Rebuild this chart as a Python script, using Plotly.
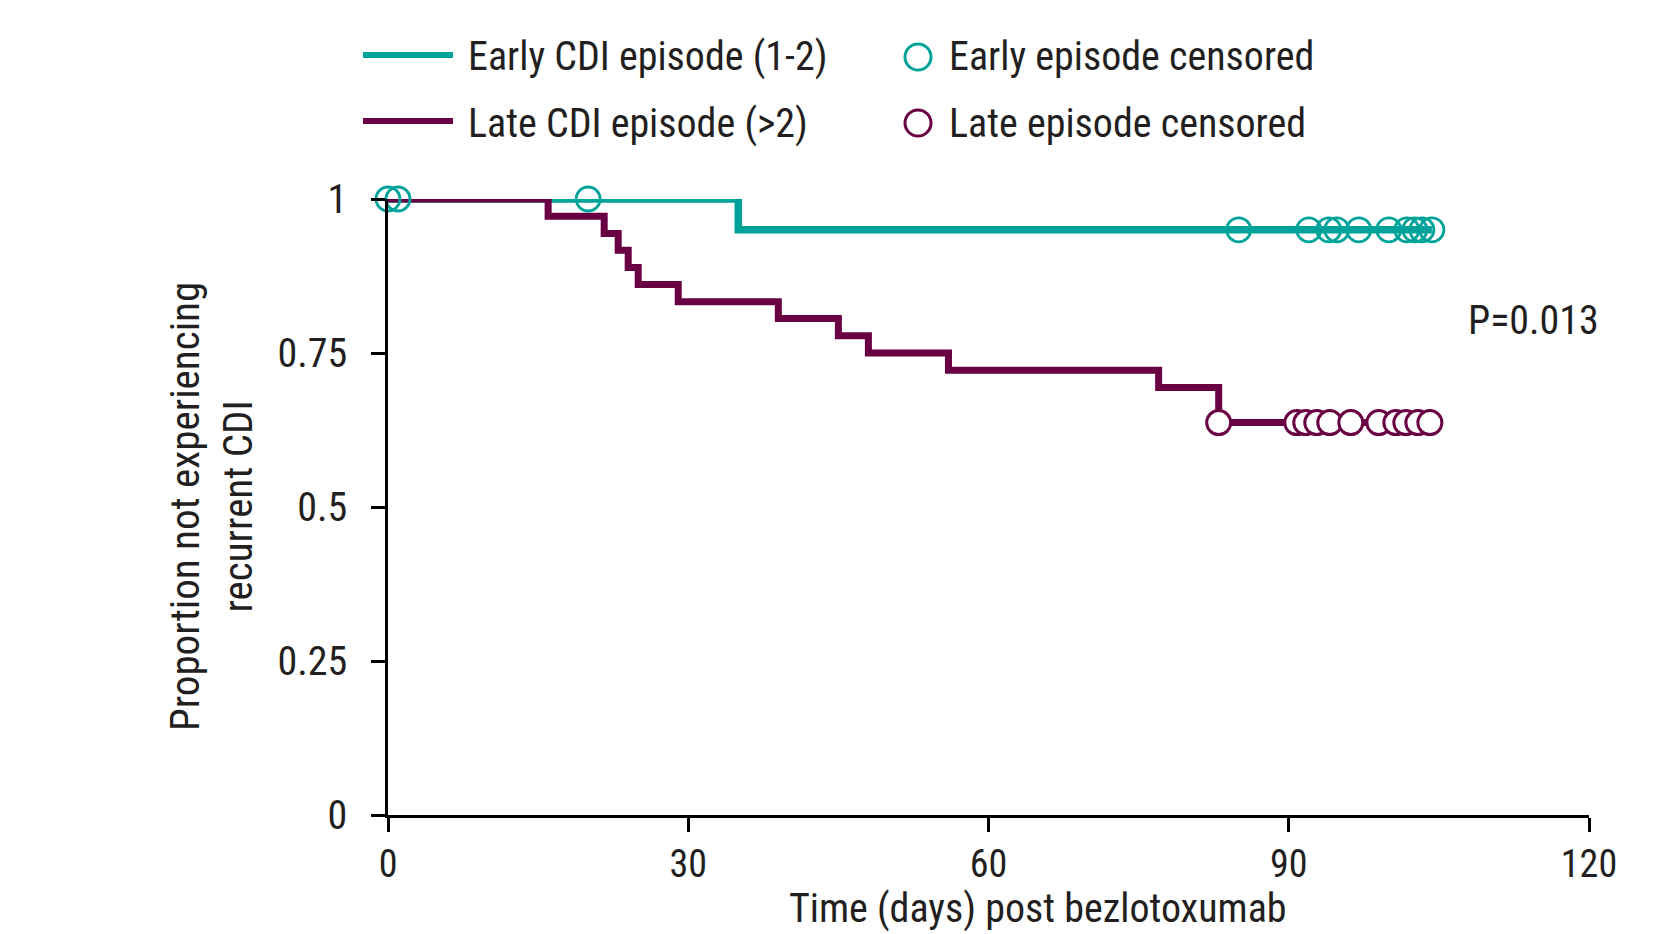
import numpy as np
import plotly.graph_objects as go

# ---------------- data ----------------
x_ticks = [0, 30, 60, 90, 120]
y_ticks = [0, 0.25, 0.5, 0.75, 1]
y_ticklabels = ["0", "0.25", "0.5", "0.75", "1"]

# Kaplan-Meier event times / survival after event
early_event_days = [35]
early_event_surv = [0.95]
early_censor_days = [0, 1, 20, 85, 92, 94, 94.8, 97, 100, 101.8, 102.6, 103.3, 104.3]

late_event_days = [16, 21.6, 23, 24, 25, 29, 39, 45, 48, 56, 77, 83]
late_event_surv = [0.972, 0.944, 0.917, 0.889, 0.861, 0.833, 0.806, 0.778, 0.750, 0.722, 0.694, 0.637]
late_censor_days = [83, 90.8, 91.7, 92.8, 94.1, 96.2, 99.0, 100.7, 101.7, 102.9, 104.1]

p_value_text = "P=0.013"

TEAL = "#00A39A"
PURPLE = "#6A0044"
FONT = "Liberation Sans Narrow, Arial Narrow, Roboto Condensed, DejaVu Sans Condensed, sans-serif"
TXT = "#231F20"


def km_curve(ev_days, ev_surv, end_day):
    xs = [0] + list(ev_days) + [end_day]
    ys = [1.0] + list(ev_surv) + [ev_surv[-1]]
    return xs, ys


def surv_at(ev_days, ev_surv, days):
    ev_days = np.asarray(ev_days)
    vals = np.concatenate([[1.0], ev_surv])
    idx = np.searchsorted(ev_days, np.asarray(days), side="right")
    return vals[idx]


ex, ey = km_curve(early_event_days, early_event_surv, max(early_censor_days))
lx, ly = km_curve(late_event_days, late_event_surv, max(late_censor_days))

fig = go.Figure()
fig.add_trace(go.Scatter(x=ex, y=ey, mode="lines", line=dict(color=TEAL, width=7.5, shape="hv"),
                         name="Early CDI episode (1-2)", showlegend=False))
fig.add_trace(go.Scatter(x=lx, y=ly, mode="lines", line=dict(color=PURPLE, width=7, shape="hv"),
                         name="Late CDI episode (>2)", showlegend=False))
fig.add_trace(go.Scatter(x=early_censor_days,
                         y=surv_at(early_event_days, early_event_surv, early_censor_days),
                         mode="markers", cliponaxis=False,
                         marker=dict(symbol="circle-open", size=24, color=TEAL, line=dict(width=2.8, color=TEAL)),
                         name="Early episode censored", showlegend=False))
fig.add_trace(go.Scatter(x=late_censor_days,
                         y=surv_at(late_event_days, late_event_surv, late_censor_days),
                         mode="markers", cliponaxis=False,
                         marker=dict(symbol="circle", size=24, color="white", line=dict(width=3, color=PURPLE)),
                         name="Late episode censored", showlegend=False))

# ------------- layout -------------
# target plot-area edges in the screenshot (page has an 8px body margin)
L, R, T, B = 388, 1589, 199, 815
W, H = 1660, 934
OFF = 8


def px_x(x):
    return (x - L) / (R - L)


def px_y(y):
    return (B - y) / (B - T)


shapes = []
annotations = []
# custom legend
legend_rows = [
    ("Early CDI episode (1-2)", "Early episode censored", TEAL, "rgba(0,0,0,0)", 55),
    ("Late CDI episode (>2)", "Late episode censored", PURPLE, "white", 121),
]
for line_name, cens_name, col, fill, yy in legend_rows:
    shapes.append(dict(type="line", xref="paper", yref="paper",
                       x0=px_x(363), x1=px_x(453), y0=px_y(yy), y1=px_y(yy),
                       line=dict(color=col, width=6)))
    shapes.append(dict(type="circle", xref="paper", yref="paper",
                       x0=px_x(918 - 13), x1=px_x(918 + 13), y0=px_y(yy + 2 + 13), y1=px_y(yy + 2 - 13),
                       line=dict(color=col, width=3), fillcolor=fill))
    annotations.append(dict(text=line_name, xref="paper", yref="paper", x=px_x(466), y=px_y(yy + 2),
                            xanchor="left", yanchor="middle", showarrow=False,
                            font=dict(family=FONT, size=40, color=TXT)))
    annotations.append(dict(text=cens_name, xref="paper", yref="paper", x=px_x(947), y=px_y(yy + 2),
                            xanchor="left", yanchor="middle", showarrow=False,
                            font=dict(family=FONT, size=40, color=TXT)))

annotations.append(dict(text=p_value_text, xref="paper", yref="paper", x=px_x(1466), y=px_y(320),
                        xanchor="left", yanchor="middle", showarrow=False,
                        font=dict(family=FONT, size=40, color=TXT)))
annotations.append(dict(text="Time (days) post bezlotoxumab", xref="paper", yref="paper",
                        x=px_x(1038), y=px_y(934), xanchor="center", yanchor="bottom", showarrow=False,
                        font=dict(family=FONT, size=40, color=TXT)))
annotations.append(dict(text="Proportion not experiencing<br>recurrent CDI", xref="paper", yref="paper",
                        x=px_x(211), y=0.5, xanchor="center", yanchor="middle", textangle=-90,
                        showarrow=False, font=dict(family=FONT, size=41, color=TXT)))

fig.update_layout(
    width=W, height=H,
    margin=dict(l=L - OFF, r=W - R + OFF, t=T - OFF, b=H - B + OFF, pad=0),
    paper_bgcolor="white", plot_bgcolor="white",
    showlegend=False,
    shapes=shapes, annotations=annotations,
    font=dict(family=FONT, size=40, color=TXT),
)
fig.update_xaxes(range=[0, 120], tickvals=x_ticks, ticks="outside", ticklen=14, tickwidth=2.5,
                 tickcolor="black", showline=True, linewidth=2.5, linecolor="black",
                 showgrid=False, zeroline=False, ticklabelstandoff=0,
                 tickfont=dict(family=FONT, size=38, color=TXT))
fig.update_yaxes(range=[0, 1], tickvals=y_ticks, ticktext=y_ticklabels, ticks="outside", ticklen=14,
                 tickwidth=2.5, tickcolor="black", showline=True, linewidth=2.5, linecolor="black",
                 showgrid=False, zeroline=False, ticklabelstandoff=16,
                 tickfont=dict(family=FONT, size=40, color=TXT))

fig.write_html("out.html")
